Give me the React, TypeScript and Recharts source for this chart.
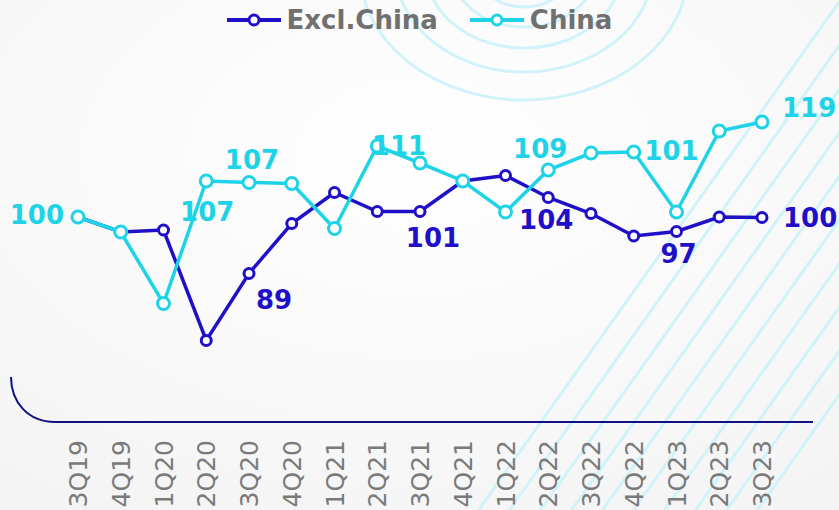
import { LineChart, Line, XAxis, YAxis, Legend, LabelList } from 'recharts';

const quarters = ['3Q19', '4Q19', '1Q20', '2Q20', '3Q20', '4Q20', '1Q21', '2Q21', '3Q21', '4Q21', '1Q22', '2Q22', '3Q22', '4Q22', '1Q23', '2Q23', '3Q23'];
const exclChina = [100, 97, 97.4, 75.3, 88.7, 98.7, 104.9, 101.1, 101.1, 107.2, 108.3, 103.9, 100.7, 96.2, 97.1, 100, 99.9];
const china = [100, 97, 82.7, 107.2, 106.9, 106.7, 97.7, 114.2, 110.8, 107.2, 101, 109.4, 112.8, 113, 101, 117.2, 119];
const seriesOrder = ['Excl.China', 'China'];

const EXCL_COLOR = '#1f0fc8';
const CHINA_COLOR = '#1ed3e8';
const DECOR = '#d0f3f9';

const data = quarters.map((q, i) => ({ q, excl: exclChina[i], china: china[i] }));

// where each shown value label sits relative to its point
type Place = { dx: number; dy: number; anchor: 'start' | 'middle' | 'end' };
const chinaLabels: Record<number, Place> = {
  0: { dx: -14, dy: -2, anchor: 'end' },
  3: { dx: 1, dy: 31, anchor: 'middle' },
  4: { dx: 3, dy: -23, anchor: 'middle' },
  8: { dx: -21, dy: -17, anchor: 'middle' },
  11: { dx: -8, dy: -21, anchor: 'middle' },
  14: { dx: -5, dy: -61, anchor: 'middle' },
  16: { dx: 20, dy: -14, anchor: 'start' },
};
const exclLabels: Record<number, Place> = {
  4: { dx: 25, dy: 26, anchor: 'middle' },
  8: { dx: 13, dy: 26, anchor: 'middle' },
  11: { dx: -2, dy: 22, anchor: 'middle' },
  14: { dx: 2, dy: 22, anchor: 'middle' },
  16: { dx: 21, dy: 0, anchor: 'start' },
};

function makeLabel(places: Record<number, Place>, color: string) {
  return (props: any) => {
    const { x, y, value, index } = props;
    const p = places[index];
    if (!p) return null;
    return (
      <text
        x={x + p.dx}
        y={y + p.dy}
        textAnchor={p.anchor}
        dominantBaseline="central"
        fill={color}
        fontSize={26}
        fontWeight="bold"
        fontFamily="DejaVu Sans, Verdana, sans-serif"
      >
        {Math.round(value)}
      </text>
    );
  };
}

function QuarterTick({ x, y, payload }: any) {
  const px = x + 9;
  const py = y + 10;
  return (
    <text
      x={px}
      y={py}
      transform={`rotate(-90 ${px} ${py})`}
      textAnchor="end"
      fill="#7a7a7a"
      fontSize={25}
      fontFamily="DejaVu Sans, Verdana, sans-serif"
    >
      {payload.value}
    </text>
  );
}

function LegendContent({ payload }: any) {
  const items = [...(payload || [])].sort(
    (a: any, b: any) => seriesOrder.indexOf(a.value) - seriesOrder.indexOf(b.value)
  );
  return (
    <div style={{ display: 'flex', justifyContent: 'center', alignItems: 'center', gap: 32 }}>
      {items.map((entry: any) => (
        <div key={entry.value} style={{ display: 'flex', alignItems: 'center' }}>
          <svg width={54} height={14} style={{ marginRight: 6 }}>
            <line x1={0} y1={7} x2={54} y2={7} stroke={entry.color} strokeWidth={4} />
            <circle cx={27} cy={7} r={5} fill="#fff" stroke={entry.color} strokeWidth={3} />
          </svg>
          <span style={{ color: '#707070', fontSize: 26, fontWeight: 'bold', fontFamily: 'DejaVu Sans, Verdana, sans-serif', lineHeight: '30px' }}>
            {entry.value}
          </span>
        </div>
      ))}
    </div>
  );
}

function Decor() {
  const arcs = [
    { rx: 164, ry: 130 },
    { rx: 128, ry: 102 },
    { rx: 98, ry: 78 },
    { rx: 72, ry: 57 },
    { rx: 47, ry: 37 },
  ];
  const stripes = Array.from({ length: 10 }, (_, i) => 585 + 31 * i);
  return (
    <svg width={839} height={510} style={{ position: 'absolute', left: 0, top: 0 }}>
      <defs>
        <radialGradient id="bg" cx="50%" cy="30%" r="80%">
          <stop offset="0%" stopColor="#ffffff" />
          <stop offset="100%" stopColor="#f4f4f5" />
        </radialGradient>
      </defs>
      <rect width={839} height={510} fill="url(#bg)" />
      {arcs.map((a, i) => (
        <ellipse key={i} cx={524} cy={-30} rx={a.rx} ry={a.ry} fill="none" stroke={DECOR} strokeWidth={3} />
      ))}
      {stripes.map((x0, i) => (
        <line
          key={i}
          x1={x0 + 0.71 * 360}
          y1={0}
          x2={x0 - 0.71 * 150}
          y2={510}
          stroke={DECOR}
          strokeWidth={3}
        />
      ))}
      <path d="M 11 377 C 11 402, 28 422, 55 422" fill="none" stroke="#101080" strokeWidth={2} />
    </svg>
  );
}

export default function App() {
  return (
    <div style={{ position: 'absolute', left: 0, top: 0, width: 839, height: 510, overflow: 'hidden' }}>
      <Decor />
      <div style={{ position: 'absolute', left: 0, top: 0 }}>
        <LineChart width={839} height={510} data={data} margin={{ top: 72, right: 26, left: 54, bottom: 0 }}>
          <XAxis
            dataKey="q"
            height={88}
            interval={0}
            padding={{ left: 24, right: 51 }}
            axisLine={{ stroke: '#101080', strokeWidth: 2 }}
            tickLine={false}
            tick={<QuarterTick />}
          />
          <YAxis hide domain={[59, 129]} />
          <Legend
            verticalAlign="middle"
            content={<LegendContent />}
            wrapperStyle={{ top: 5, left: 0, width: 839 }}
          />
          <Line
            dataKey="excl"
            name="Excl.China"
            stroke={EXCL_COLOR}
            strokeWidth={3.5}
            dot={{ r: 5, fill: '#fff', stroke: EXCL_COLOR, strokeWidth: 3 }}
            isAnimationActive={false}
          >
            <LabelList dataKey="excl" content={makeLabel(exclLabels, EXCL_COLOR)} />
          </Line>
          <Line
            dataKey="china"
            name="China"
            stroke={CHINA_COLOR}
            strokeWidth={3.5}
            dot={{ r: 6, fill: '#fff', stroke: CHINA_COLOR, strokeWidth: 3 }}
            isAnimationActive={false}
          >
            <LabelList dataKey="china" content={makeLabel(chinaLabels, CHINA_COLOR)} />
          </Line>
        </LineChart>
      </div>
    </div>
  );
}
